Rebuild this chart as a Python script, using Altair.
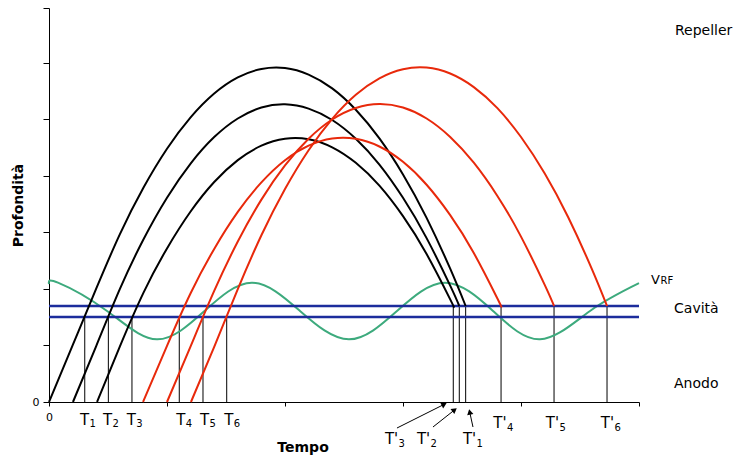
import altair as alt
import pandas as pd

FONT = "DejaVu Sans"

# ---------------- data (Tempo, Profondità) ----------------
# black trajectories (T1, T2, T3)
b1_x = [0.000, 0.2, 0.4, 0.6, 0.8, 1.0, 1.2, 1.4, 1.6, 1.8, 2.0, 2.2, 2.4, 2.6, 2.8, 3.0, 3.2, 3.4, 3.531]
b1_y = [0.000, 1.001, 2.003, 2.963, 3.786, 4.476, 5.031, 5.452, 5.737, 5.887, 5.904, 5.788, 5.544,
        5.167, 4.660, 4.023, 3.254, 2.356, 1.697]
b2_x = [0.203, 0.4, 0.6, 0.8, 1.0, 1.2, 1.4, 1.6, 1.8, 2.0, 2.2, 2.4, 2.6, 2.8, 3.0, 3.2, 3.4, 3.477]
b2_y = [0.000, 0.988, 1.994, 2.873, 3.612, 4.215, 4.683, 5.012, 5.206, 5.263, 5.187, 4.985, 4.654,
        4.197, 3.610, 2.897, 2.056, 1.697]
b3_x = [0.407, 0.6, 0.8, 1.0, 1.2, 1.4, 1.6, 1.8, 2.0, 2.2, 2.4, 2.6, 2.8, 3.0, 3.2, 3.4, 3.426]
b3_y = [0.000, 0.979, 1.929, 2.715, 3.368, 3.889, 4.276, 4.532, 4.654, 4.645, 4.502, 4.228, 3.824,
        3.286, 2.616, 1.814, 1.697]

# red trajectories (T4, T5, T6)
r4_x = [0.797, 1.0, 1.2, 1.4, 1.6, 1.8, 2.0, 2.2, 2.4, 2.6, 2.8, 3.0, 3.2, 3.4, 3.6, 3.8, 3.831]
r4_y = [0.000, 0.993, 1.923, 2.706, 3.360, 3.882, 4.274, 4.531, 4.658, 4.653, 4.517, 4.246, 3.841,
        3.304, 2.634, 1.830, 1.697]
r5_x = [1.0, 1.2, 1.4, 1.6, 1.8, 2.0, 2.2, 2.4, 2.6, 2.8, 3.0, 3.2, 3.4, 3.6, 3.8, 4.0, 4.2, 4.280]
r5_y = [0.000, 0.985, 1.964, 2.837, 3.578, 4.182, 4.654, 4.994, 5.197, 5.268, 5.206, 5.012, 4.686,
        4.230, 3.643, 2.924, 2.074, 1.697]
r6_x = [1.203, 1.4, 1.6, 1.8, 2.0, 2.2, 2.4, 2.6, 2.8, 3.0, 3.2, 3.4, 3.6, 3.8, 4.0, 4.2, 4.4, 4.6, 4.729]
r6_y = [0.000, 0.976, 1.996, 2.947, 3.765, 4.451, 5.006, 5.431, 5.722, 5.883, 5.912, 5.807, 5.567,
        5.194, 4.684, 4.043, 3.265, 2.353, 1.697]

# RF voltage (green)
rf_x = [0.0, 0.076, 0.492, 0.915, 1.318, 1.720, 2.127, 2.542, 2.949, 3.356, 3.763, 4.161, 4.585, 5.0]
rf_y = [2.086, 2.109, 1.609, 1.108, 1.609, 2.109, 1.609, 1.108, 1.609, 2.109, 1.609, 1.108, 1.609, 2.100]

# cavity grids (blue)
cav_y = [1.697, 1.503]
cav_x0 = [0.0, 0.0]
cav_x1 = [5.0, 5.0]

# departure times T1..T6 (drop to lower grid) and return times T'1..T'6 (upper grid)
dep_x = [0.303, 0.503, 0.703, 1.104, 1.305, 1.506]
dep_top = [1.503] * 6
ret_x = [3.531, 3.477, 3.426, 3.831, 4.280, 4.729]
ret_top = [1.697] * 6

# labels
t_lab_x = [0.301, 0.496, 0.698, 1.117, 1.318, 1.524]
t_lab_y = [-0.407] * 6
t_lab_sub = ["1", "2", "3", "4", "5", "6"]
tp_lab_x = [3.564, 3.174, 2.903, 3.822, 4.267, 4.733]
tp_lab_y = [-0.742, -0.742, -0.742, -0.460, -0.460, -0.460]
tp_lab_sub = ["1", "2", "3", "4", "5", "6"]

# arrows pointing at T'1..T'3
arr_x = [2.949, 3.254, 3.593]
arr_y = [-0.460, -0.442, -0.442]
arr_x2 = [3.342, 3.431, 3.567]
arr_y2 = [-0.049, -0.150, -0.193]
arr_angle = [63, 52, 348]

# side labels
side_text = ["Repeller", "Cavità", "Anodo"]
side_x = [5.305, 5.297, 5.297]
side_y = [6.558, 1.644, 0.318]

# ---------------- build tables ----------------
def curves_df(curves):
    rows = []
    for name, (xs, ys) in curves.items():
        for i, (a, b) in enumerate(zip(xs, ys)):
            rows.append({"curve": name, "i": i, "x": a, "y": b})
    return pd.DataFrame(rows)

black_df = curves_df({"T1": (b1_x, b1_y), "T2": (b2_x, b2_y), "T3": (b3_x, b3_y)})
red_df = curves_df({"T4": (r4_x, r4_y), "T5": (r5_x, r5_y), "T6": (r6_x, r6_y)})
rf_df = pd.DataFrame({"x": rf_x, "y": rf_y, "i": list(range(len(rf_x)))})
cav_df = pd.DataFrame({"x": cav_x0, "x2": cav_x1, "y": cav_y})
vert_df = pd.DataFrame({"x": dep_x + ret_x, "y": [0.0] * 12, "y2": dep_top + ret_top})
tl_df = pd.DataFrame({"x": t_lab_x, "y": t_lab_y, "main": ["T"] * 6, "sub": t_lab_sub})
tpl_df = pd.DataFrame({"x": tp_lab_x, "y": tp_lab_y, "main": ["T'"] * 6, "sub": tp_lab_sub})
arr_df = pd.DataFrame({"x": arr_x, "y": arr_y, "x2": arr_x2, "y2": arr_y2, "angle": arr_angle})
side_df = pd.DataFrame({"x": side_x, "y": side_y, "text": side_text})
vrf_df = pd.DataFrame({"x": [5.102], "y": [2.086], "main": ["V"], "sub": ["RF"]})
tempo_df = pd.DataFrame({"x": [2.153], "y": [-0.813], "text": ["Tempo"]})

xscale = alt.Scale(domain=[0, 5], nice=False, zero=False)
yscale = alt.Scale(domain=[0, 6.965], nice=False, zero=False)

x_axis = alt.Axis(values=[0, 1, 2, 3, 4, 5], labelExpr="datum.value == 0 ? '0' : ''",
                  tickSize=4, tickColor="black", domainColor="black", grid=False, title=None,
                  labelFont=FONT, labelFontSize=11, labelColor="black", labelPadding=5,
                  labelFlush=False)
y_axis = alt.Axis(values=[0, 1, 2, 3, 4, 5, 6, 6.965], labelExpr="datum.value == 0 ? '0' : ''",
                  tickSize=6, tickColor="black", domainColor="black", grid=False,
                  title="Profondità", titleFont=FONT, titleFontSize=14, titleFontWeight="bold",
                  titleColor="black", titleAngle=270, titleX=-31, titleY=197,
                  titleAlign="center", titleBaseline="middle",
                  labelFont=FONT, labelFontSize=11, labelColor="black", labelPadding=4,
                  labelFlush=False)

X = alt.X("x:Q", scale=xscale, axis=x_axis)
Y = alt.Y("y:Q", scale=yscale, axis=y_axis)

verts = alt.Chart(vert_df).mark_rule(color="black", strokeWidth=1).encode(x=X, y=Y, y2="y2:Q")
rf = alt.Chart(rf_df).mark_line(color="#3DAA7D", strokeWidth=2, interpolate="natural").encode(
    x=X, y=Y, order="i:Q")
cav = alt.Chart(cav_df).mark_rule(color="#1C2C9C", strokeWidth=2.5).encode(x=X, x2="x2:Q", y=Y)
black = alt.Chart(black_df).mark_line(color="black", strokeWidth=2, interpolate="natural").encode(
    x=X, y=Y, detail="curve:N", order="i:Q")
red = alt.Chart(red_df).mark_line(color="#E8290B", strokeWidth=2, interpolate="natural").encode(
    x=X, y=Y, detail="curve:N", order="i:Q")

shafts = alt.Chart(arr_df).mark_rule(color="black", strokeWidth=1).encode(x=X, y=Y, x2="x2:Q", y2="y2:Q")
heads = alt.Chart(arr_df).mark_point(shape="triangle", filled=True, color="black", size=40, opacity=1).encode(
    x=alt.X("x2:Q", scale=xscale, axis=x_axis), y=alt.Y("y2:Q", scale=yscale, axis=y_axis),
    angle=alt.Angle("angle:Q", scale=None))

t_main = alt.Chart(tl_df).mark_text(font=FONT, fontSize=15, align="center", baseline="alphabetic",
                                    color="black").encode(x=X, y=Y, text="main:N")
t_sub = alt.Chart(tl_df).mark_text(font=FONT, fontSize=10, align="left", baseline="alphabetic",
                                   dx=5, dy=2, color="black").encode(x=X, y=Y, text="sub:N")
tp_main = alt.Chart(tpl_df).mark_text(font=FONT, fontSize=15, align="center", baseline="alphabetic",
                                      color="black").encode(x=X, y=Y, text="main:N")
tp_sub = alt.Chart(tpl_df).mark_text(font=FONT, fontSize=10, align="left", baseline="alphabetic",
                                     dx=7, dy=3, color="black").encode(x=X, y=Y, text="sub:N")

side = alt.Chart(side_df).mark_text(font=FONT, fontSize=14, align="left", baseline="middle",
                                    color="black").encode(x=X, y=Y, text="text:N")
v_main = alt.Chart(vrf_df).mark_text(font=FONT, fontSize=13, align="left", baseline="alphabetic",
                                     color="black").encode(x=X, y=Y, text="main:N")
v_sub = alt.Chart(vrf_df).mark_text(font=FONT, fontSize=10, align="left", baseline="alphabetic",
                                    dx=9.5, color="black").encode(x=X, y=Y, text="sub:N")
tempo = alt.Chart(tempo_df).mark_text(font=FONT, fontSize=14, fontWeight="bold", align="center",
                                      baseline="middle", color="black").encode(x=X, y=Y, text="text:N")

chart = alt.layer(
    verts, rf, cav, black, red, shafts, heads, t_main, t_sub, tp_main, tp_sub, side, v_main, v_sub, tempo
).properties(
    width=590, height=394, autosize="none",
    padding={"left": 41, "top": 0, "right": 100, "bottom": 57},
    background="white",
).configure_view(stroke=None)

chart.save("out.html", embed_options={"renderer": "svg", "actions": False})
